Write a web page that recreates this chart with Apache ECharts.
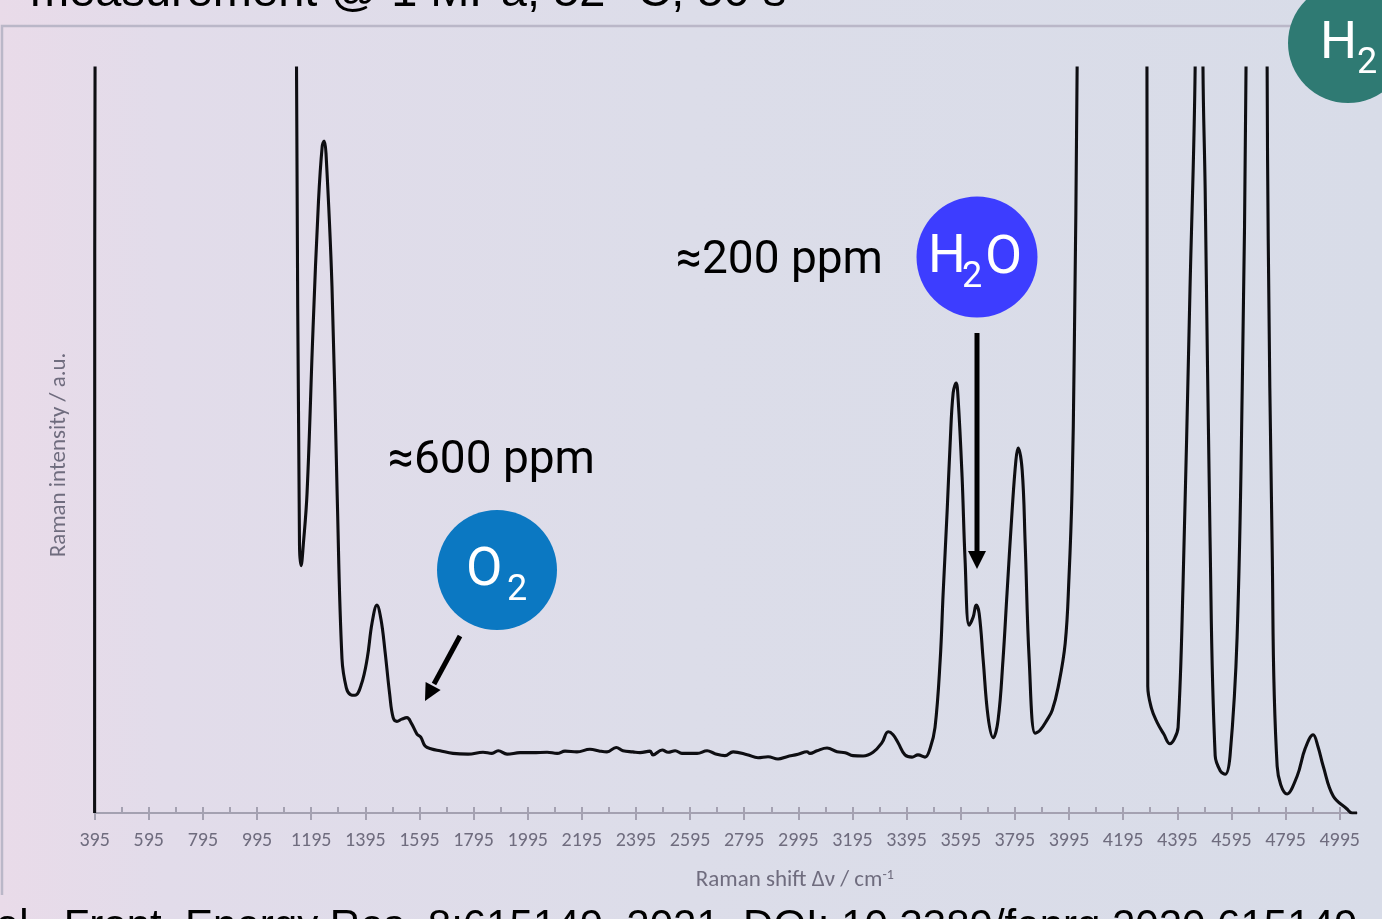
<!DOCTYPE html>
<html>
<head>
<meta charset="utf-8">
<script src="https://cdn.jsdelivr.net/npm/echarts@6/dist/echarts.min.js"></script>
<style>
html, body { margin: 0; padding: 0; }
#main { width: 1382px; height: 919px; }
</style>
</head>
<body>
<div id="main"></div>
<script>
// Raman spectrum (intensity in % of the visible range, >100 = off scale)
var ramanShift = [395, 399, 1136, 1141, 1152, 1158, 1166, 1180, 1202, 1222, 1236, 1243, 1250, 1272, 1291, 1309, 1325, 1340, 1357, 1380,
    1402, 1420, 1438, 1453, 1468, 1485, 1498, 1512, 1530, 1549, 1566, 1586, 1600, 1616, 1640, 1671, 1719, 1775, 1830, 1863,
    1886, 1919, 1967, 2015, 2067, 2104, 2133, 2177, 2225, 2262, 2288, 2322, 2347, 2384, 2410, 2447, 2458, 2492, 2514, 2540,
    2565, 2621, 2658, 2687, 2724, 2754, 2806, 2846, 2883, 2920, 2953, 2994, 3027, 3038, 3064, 3101, 3138, 3168, 3197, 3234,
    3271, 3304, 3327, 3345, 3364, 3389, 3415, 3437, 3463, 3482, 3500, 3519, 3530, 3545, 3556, 3567, 3578, 3585, 3600, 3611,
    3626, 3641, 3652, 3663, 3678, 3696, 3715, 3733, 3751, 3766, 3785, 3799, 3807, 3822, 3833, 3848, 3870, 3888, 3914, 3933,
    3955, 3981, 3995, 4006, 4014, 4025, 4032, 4278, 4283, 4286, 4300, 4320, 4345, 4368, 4385, 4398, 4416, 4442, 4461, 4468,
    4486, 4490, 4498, 4516, 4535, 4555, 4572, 4590, 4616, 4635, 4649, 4655, 4722, 4727, 4731, 4745, 4764, 4801, 4838, 4867,
    4897, 4915, 4934, 4971, 5022, 5041, 5059];
var intensity = [0, 150, 150, 100, 36, 33.2, 36, 43, 65, 82, 89.5, 90.2, 88.5, 70.7, 43, 20.7, 16.8, 15.9, 15.8, 17.2,
    20.7, 25.5, 27.9, 26, 21.7, 16, 12.8, 12.3, 12.6, 12.8, 12, 10.6, 10.2, 9, 8.6, 8.36, 8.0, 7.9, 8.15, 8.0,
    8.36, 7.9, 8.1, 8.1, 8.15, 8.0, 8.3, 8.2, 8.55, 8.3, 8.2, 8.8, 8.36, 8.2, 8.1, 8.3, 7.8, 8.46, 8.15, 8.36,
    8.0, 8.0, 8.36, 7.96, 7.7, 8.2, 7.83, 7.42, 7.56, 7.25, 7.56, 7.88, 8.23, 8.0, 8.36, 8.72, 8.23, 8.1, 7.7, 7.65,
    8.15, 9.44, 10.9, 10.5, 9.4, 7.8, 7.5, 7.8, 7.5, 8.7, 11.5, 20.5, 29.5, 40.7, 49.7, 56.4, 57.7, 55.8, 45.1, 34.0,
    25.2, 26.3, 27.9, 26.8, 20.5, 12.9, 10.1, 12.5, 20.5, 29.5, 40.7, 47.4, 49.0, 46.0, 36.2, 20.5, 10.7, 11.1, 12.5, 13.8,
    16.9, 22.8, 31.7, 43.0, 60.8, 100, 150, 150, 100, 17, 14, 12.2, 10.6, 9.3, 10, 11.5, 30.3, 70.3, 100, 150,
    150, 100, 83.8, 37, 7.7, 5.6, 5.2, 7.7, 23.6, 57, 100, 150, 150, 100, 77, 37, 6.3, 2.55, 4.97, 8.6,
    10.5, 8.9, 6.3, 2.28, 0.54, 0, 0];

var majorTicks = [395, 595, 795, 995, 1195, 1395, 1595, 1795, 1995, 2195, 2395, 2595, 2795, 2995, 3195, 3395,
    3595, 3795, 3995, 4195, 4395, 4595, 4795, 4995];
var minorTicks = [495, 695, 895, 1095, 1295, 1495, 1695, 1895, 2095, 2295, 2495, 2695, 2895, 3095, 3295, 3495,
    3695, 3895, 4095, 4295, 4495, 4695, 4895];

var spectrum = [];
for (var i = 0; i < ramanShift.length; i++) {
    spectrum.push([ramanShift[i], intensity[i]]);
}

var axisGray = '#a4a1b1';
var labelGray = '#6f6c7e';
var narrowFont = "Carlito, 'Liberation Sans Narrow', 'DejaVu Sans Condensed', 'Open Sans', sans-serif";

function txt(str, x, y, size, color, family) {
    return {
        type: 'text', x: x, y: y, silent: true, z: 20,
        style: {
            text: str, fill: color, fontSize: size, fontFamily: family || 'Roboto',
            textAlign: 'left', align: 'left', textVerticalAlign: 'middle', verticalAlign: 'middle'
        }
    };
}

var myChart = echarts.init(document.getElementById('main'));

var option = {
    animation: false,
    grid: { left: 94.6, right: 25, top: 68, bottom: 106, containLabel: false, outerBoundsMode: 'none' },
    xAxis: [{
        type: 'value', min: 395, max: 5059, position: 'bottom',
        axisLine: { show: true, lineStyle: { color: axisGray, width: 2 } },
        axisTick: { show: true, inside: false, length: 7, customValues: majorTicks, lineStyle: { color: axisGray, width: 2 } },
        axisLabel: {
            customValues: majorTicks, margin: 18, color: labelGray, fontSize: 20, fontFamily: narrowFont,
            formatter: function (v) { return String(v); }
        },
        splitLine: { show: false },
        name: 'Raman shift Δν / cm{sup|-1}',
        nameLocation: 'middle', nameGap: 55,
        nameTextStyle: {
            color: labelGray, fontSize: 23, fontFamily: narrowFont, lineHeight: 25, padding: [0, 0, 0, 138],
            rich: { sup: { fontSize: 14, lineHeight: 14, verticalAlign: 'top', color: labelGray, fontFamily: narrowFont } }
        }
    }, {
        type: 'value', min: 395, max: 5059, position: 'bottom',
        axisLine: { show: false },
        axisTick: { show: true, inside: true, length: 6, customValues: majorTicks.concat(minorTicks), lineStyle: { color: axisGray, width: 2 } },
        axisLabel: { show: false },
        splitLine: { show: false }
    }],
    yAxis: {
        type: 'value', min: 0, max: 100,
        axisLine: { show: true, lineStyle: { color: axisGray, width: 2 } },
        axisTick: { show: false },
        axisLabel: { show: false },
        splitLine: { show: false },
        name: 'Raman intensity / a.u.',
        nameLocation: 'middle', nameGap: 24, nameRotate: 90,
        nameTextStyle: { color: labelGray, fontSize: 23, fontFamily: narrowFont, padding: [0, 29, 0, 0] }
    },
    series: [{
        type: 'line',
        xAxisIndex: 0,
        data: spectrum,
        showSymbol: false,
        smooth: 0.4,
        clip: true,
        lineStyle: { color: '#0e0e12', width: 3.1 },
        z: 5
    }],
    graphic: [
        // slide background
        {
            type: 'rect', z: -100, silent: true, shape: { x: 0, y: 0, width: 1382, height: 919 },
            style: {
                fill: new echarts.graphic.LinearGradient(0, 0, 1, 0, [
                    { offset: 0, color: '#e9dbe9' }, { offset: 0.12, color: '#e2dcea' },
                    { offset: 0.5, color: '#dcdde9' }, { offset: 1, color: '#d8dce8' }
                ])
            }
        },
        // chart frame
        {
            type: 'polyline', z: -50, silent: true,
            shape: { points: [[1382, 26], [2, 26], [2, 895]] },
            style: { stroke: '#bab7c8', lineWidth: 2.5, fill: null }
        },
        txt('measurement @ 1 MPa, 52 °C, 50 s', 30, -7, 47, '#000', "'Liberation Sans', Arial, sans-serif"),
        txt('al., Front. Energy Res. 8:615149. 2021, DOI: 10.3389/fenrg.2020.615149', -4, 927, 42, '#000', "'Liberation Sans', Arial, sans-serif"),
        txt('≈200 ppm', 676, 261, 46, '#000'),
        txt('≈600 ppm', 388, 461, 46, '#000'),
        // H2 badge
        { type: 'circle', z: 15, silent: true, shape: { cx: 1348, cy: 43, r: 60 }, style: { fill: '#2f7a73' } },
        txt('H', 1320, 45, 52, '#fff'),
        txt('2', 1357, 64, 36, '#fff'),
        // H2O badge
        { type: 'circle', z: 15, silent: true, shape: { cx: 977, cy: 257, r: 60.5 }, style: { fill: '#3d3dff' } },
        txt('H', 928, 259, 53, '#fff'),
        txt('2', 962, 278, 36, '#fff'),
        txt('O', 985, 259, 54, '#fff'),
        // O2 badge
        { type: 'circle', z: 15, silent: true, shape: { cx: 497, cy: 570, r: 60 }, style: { fill: '#0b78c2' } },
        txt('O', 466, 572, 53, '#fff'),
        txt('2', 507, 591, 36, '#fff'),
        // arrows
        { type: 'line', z: 15, silent: true, shape: { x1: 977, y1: 333, x2: 977, y2: 553 }, style: { stroke: '#000', lineWidth: 5 } },
        { type: 'polygon', z: 15, silent: true, shape: { points: [[968, 551], [986, 551], [977, 569]] }, style: { fill: '#000' } },
        { type: 'line', z: 15, silent: true, shape: { x1: 460, y1: 636, x2: 434, y2: 684 }, style: { stroke: '#000', lineWidth: 5 } },
        { type: 'polygon', z: 15, silent: true, shape: { points: [[440.6, 690], [425.6, 682], [425, 701]] }, style: { fill: '#000' } }
    ]
};

myChart.setOption(option);
</script>
</body>
</html>
